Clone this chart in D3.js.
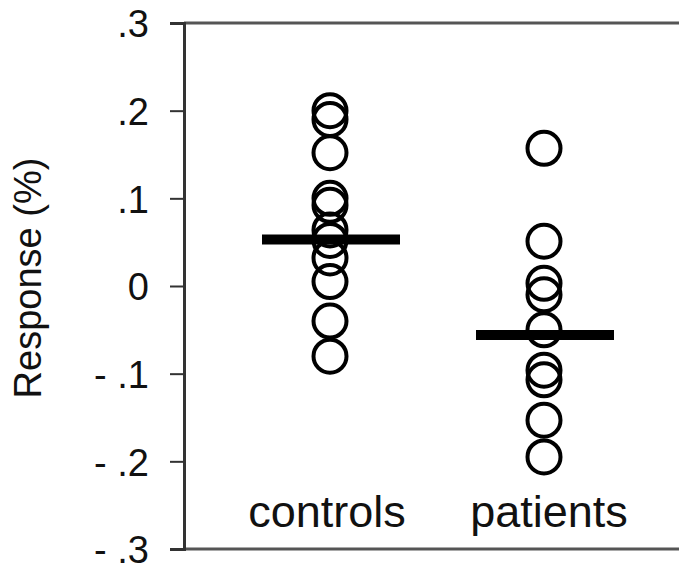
<!DOCTYPE html>
<html>
<head>
<meta charset="utf-8">
<script src="https://cdn.jsdelivr.net/npm/d3@7"></script>
<style>
  html, body { margin: 0; padding: 0; background: #fff; }
  svg { display: block; }
</style>
</head>
<body>
<div id="chart"></div>
<script>
// data
const groups = ["controls", "patients"];
const controlsValues = [0.2, 0.19, 0.152, 0.1, 0.092, 0.064, 0.052, 0.032, 0.005, -0.04, -0.08];
const patientsValues = [0.157, 0.051, 0.003, -0.01, -0.05, -0.096, -0.107, -0.153, -0.195];
const groupMeans = [0.053, -0.056];
const tickValues = [0.3, 0.2, 0.1, 0, -0.1, -0.2, -0.3];
const tickLabels = [".3", ".2", ".1", "0", "- .1", "- .2", "- .3"];

const width = 679, height = 564;
const axisX = 184;

const svg = d3.select("#chart").append("svg")
    .attr("width", width)
    .attr("height", height)
    .style("font-family", "'Liberation Sans', Arial, sans-serif");

const y = d3.scaleLinear().domain([-0.3, 0.3]).range([549, 23]);
const x = d3.scalePoint().domain(groups).range([330, 544]);

// frame: top and bottom rules
svg.append("line")
    .attr("x1", axisX).attr("x2", width)
    .attr("y1", y(0.3)).attr("y2", y(0.3))
    .attr("stroke", "#555").attr("stroke-width", 3);
svg.append("line")
    .attr("x1", axisX).attr("x2", width)
    .attr("y1", y(-0.3)).attr("y2", y(-0.3))
    .attr("stroke", "#555").attr("stroke-width", 3);

// y axis
const yAxis = d3.axisLeft(y)
    .tickValues(tickValues)
    .tickSize(14)
    .tickPadding(21)
    .tickFormat((d, i) => tickLabels[i]);

const ax = svg.append("g")
    .attr("transform", `translate(${axisX},0)`)
    .call(yAxis);
ax.select(".domain").attr("stroke", "#333").attr("stroke-width", 3);
ax.selectAll(".tick line").attr("stroke", "#333").attr("stroke-width", 2);
ax.selectAll(".tick text")
    .attr("fill", "#111")
    .style("font-size", "38px")
    .style("font-family", "'Liberation Sans', Arial, sans-serif")
    .attr("dy", "0.36em");

// y label
svg.append("text")
    .attr("transform", `translate(41,${y(0) - 8}) rotate(-90)`)
    .attr("text-anchor", "middle")
    .style("font-size", "38px")
    .attr("fill", "#111")
    .text("Response (%)");

// points
const series = [controlsValues, patientsValues];
series.forEach((vals, gi) => {
    svg.append("g")
        .selectAll("circle")
        .data(vals)
        .join("circle")
        .attr("cx", x(groups[gi]))
        .attr("cy", d => y(d))
        .attr("r", 16.5)
        .attr("fill", "none")
        .attr("stroke", "#000")
        .attr("stroke-width", 4);
});

// group mean bars
svg.append("g")
    .selectAll("line")
    .data(groupMeans)
    .join("line")
    .attr("x1", (d, i) => x(groups[i]) - 68)
    .attr("x2", (d, i) => x(groups[i]) + 70)
    .attr("y1", d => y(d))
    .attr("y2", d => y(d))
    .attr("stroke", "#000")
    .attr("stroke-width", 10);

// category labels
svg.append("g")
    .selectAll("text")
    .data(groups)
    .join("text")
    .attr("x", (d, i) => x(d) + (i === 0 ? -3 : 5))
    .attr("y", 527)
    .attr("text-anchor", "middle")
    .style("font-size", "45px")
    .attr("fill", "#111")
    .text(d => d);
</script>
</body>
</html>
